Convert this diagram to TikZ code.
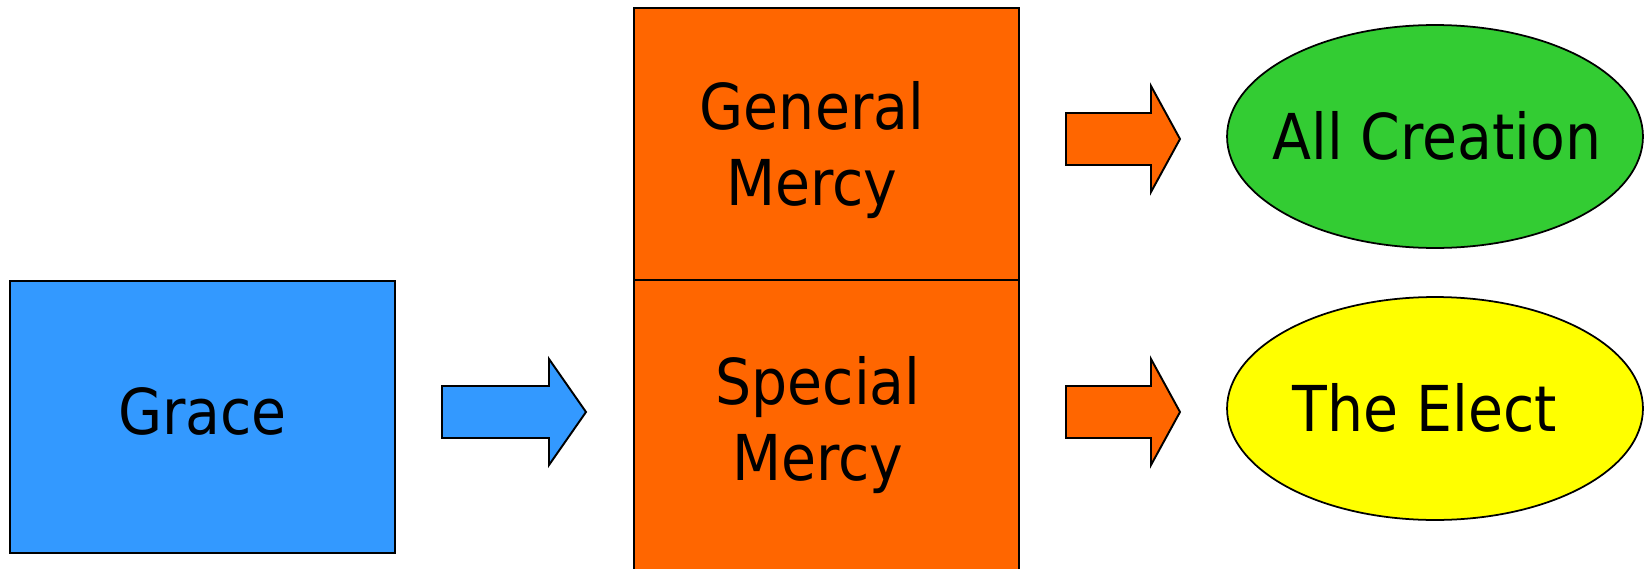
\documentclass[tikz,border=0pt]{standalone}
\usepackage{fontspec}
\setmainfont{DejaVu Sans Condensed}
\usepackage{tikz}
\usetikzlibrary{shapes.geometric,positioning}
\definecolor{graceblue}{HTML}{3399FF}
\definecolor{mercyorange}{HTML}{FF6600}
\definecolor{creationgreen}{HTML}{33CC33}
\definecolor{electyellow}{HTML}{FFFF00}

\begin{document}
\begin{tikzpicture}[x=0.02cm, y=-0.02cm,
  box/.style={draw, line width=1.1pt, inner sep=0pt, minimum width=7.7cm, minimum height=5.44cm},
  oval/.style={ellipse, draw, line width=1pt, inner sep=0pt, minimum width=8.32cm, minimum height=4.46cm},
  bigtext/.style={font=\fontsize{36}{43.5}\selectfont, align=center}]
  \useasboundingbox (0,0) rectangle (1646,568);

  % Grace
  \node[box, fill=graceblue] (grace) at (202.5,417) {};
  \node[bigtext] (gracetext) at (202.5,411) {Grace};

  % Mercy column
  \node[box, fill=mercyorange] (general) at (826.5,144) {};
  \node[box, fill=mercyorange, minimum height=6cm] (special) at (826.5,430) {};
  \node[bigtext] (generaltext) at (812,150) {General\\Mercy};
  \node[bigtext] (specialtext) at (818,425) {Special\\Mercy};

  % Outcomes
  \node[oval, fill=creationgreen] (creation) at (1435,136.5) {};
  \node[oval, fill=electyellow] (elect) at (1435,408.5) {};
  \node[bigtext] (creationtext) at (1437,136) {All Creation};
  \node[bigtext] (electtext) at (1425,408) {The Elect};

  % Block arrows
  \foreach \xa/\xb/\xc/\yc/\col in {442/549/586/412/graceblue, 1066/1151/1180/139/mercyorange, 1066/1151/1180/412/mercyorange} {
    \draw[line width=1.1pt, fill=\col] (\xa,{\yc-26}) -- (\xb,{\yc-26}) -- (\xb,{\yc-53}) -- (\xc,\yc)
      -- (\xb,{\yc+53}) -- (\xb,{\yc+26}) -- (\xa,{\yc+26}) -- cycle;
  }
\end{tikzpicture}
\end{document}
